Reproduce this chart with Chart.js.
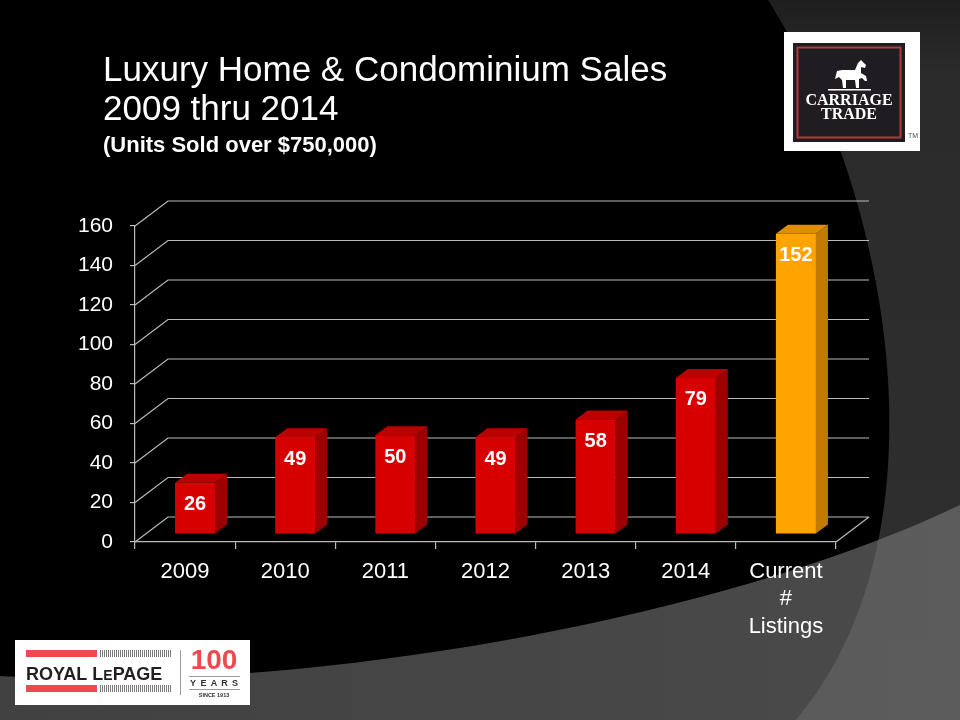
<!DOCTYPE html>
<html>
<head>
<meta charset="utf-8">
<title>Luxury Home &amp; Condominium Sales</title>
<script src="https://cdn.jsdelivr.net/npm/chart.js@4.4.1/dist/chart.umd.min.js"></script>
<style>
  html, body { margin: 0; padding: 0; background: #000; }
  #salesChart { display: block; }
</style>
</head>
<body>
<canvas id="salesChart" width="960" height="720"></canvas>
<script>
const categories = ['2009', '2010', '2011', '2012', '2013', '2014', ['Current', '#', 'Listings']];
const unitsSold = [26, 49, 50, 49, 58, 79, 152];
const yTickValues = [0, 20, 40, 60, 80, 100, 120, 140, 160];

const FONT = '"Liberation Sans", Arial, sans-serif';
const RED = { front: '#d60000', side: '#9c0000', top: '#bc0000' };
const ORANGE = { front: '#ffa300', side: '#c27b00', top: '#e08e00' };
const GRID = '#bbbbbb';
const TITLE_LEFT = 103;
const DEPTH = { x: 33, y: -25 };      // back wall offset from the front axis
const BAR_SHIFT = { x: 10, y: -8 };   // bars stand in the middle of the floor
const BAR_DEPTH = { x: 12, y: -9 };   // thickness of each bar

Chart.defaults.font.family = FONT;

function faceColors(i) {
    return i === unitsSold.length - 1 ? ORANGE : RED;
}

function drawCarriageTrade(ctx) {
    ctx.fillStyle = '#fff';
    ctx.fillRect(784, 32, 136, 119);
    ctx.fillStyle = '#1f1d22';
    ctx.fillRect(793, 43, 112, 99);
    ctx.strokeStyle = '#b23a3a';
    ctx.lineWidth = 2;
    ctx.strokeRect(797.5, 47.5, 103, 90);

    // prancing horse, rough silhouette
    ctx.fillStyle = '#fff';
    ctx.beginPath();
    ctx.moveTo(835, 79);
    ctx.lineTo(837, 71);
    ctx.lineTo(842, 70);
    ctx.lineTo(855, 70);
    ctx.lineTo(858, 63);
    ctx.lineTo(861, 60);
    ctx.lineTo(866, 65);
    ctx.lineTo(865, 68);
    ctx.lineTo(861, 67);
    ctx.lineTo(861, 73);
    ctx.lineTo(866, 76);
    ctx.lineTo(867, 81);
    ctx.lineTo(865, 81);
    ctx.lineTo(862, 78);
    ctx.lineTo(859, 79);
    ctx.lineTo(859, 88);
    ctx.lineTo(856, 88);
    ctx.lineTo(855, 80);
    ctx.lineTo(846, 80);
    ctx.lineTo(846, 88);
    ctx.lineTo(843, 88);
    ctx.lineTo(842, 80);
    ctx.lineTo(839, 77);
    ctx.closePath();
    ctx.fill();
    ctx.fillRect(828, 89, 43, 1.5);

    ctx.textAlign = 'center';
    ctx.textBaseline = 'alphabetic';
    ctx.font = 'bold 16px "Liberation Serif", serif';
    ctx.fillText('CARRIAGE', 849, 105);
    ctx.fillText('TRADE', 849, 119);
    ctx.fillStyle = '#555';
    ctx.font = '7px ' + FONT;
    ctx.fillText('TM', 913, 138);
}

function drawRoyalLePage(ctx) {
    ctx.fillStyle = '#fff';
    ctx.fillRect(15, 640, 235, 65);
    ctx.fillStyle = '#ec4a4f';
    ctx.fillRect(26, 650, 71, 7);
    ctx.fillRect(26, 685, 71, 7);
    ctx.fillStyle = '#7a7a7a';
    for (let x = 100; x < 171; x += 2) {
        ctx.fillRect(x, 650, 1, 7);
        ctx.fillRect(x, 685, 1, 7);
    }
    ctx.fillStyle = '#231f20';
    ctx.textAlign = 'left';
    ctx.textBaseline = 'alphabetic';
    ctx.font = 'bold 18px ' + FONT;
    let x = 26;
    ctx.fillText('ROYAL L', x, 680);
    x += ctx.measureText('ROYAL L').width;
    ctx.font = 'bold 14px ' + FONT;
    ctx.fillText('E', x, 680);
    x += ctx.measureText('E').width;
    ctx.font = 'bold 18px ' + FONT;
    ctx.fillText('PAGE', x, 680);

    ctx.fillStyle = '#9a9a9a';
    ctx.fillRect(180, 650, 1, 45);
    ctx.fillStyle = '#ec4a4f';
    ctx.textAlign = 'center';
    ctx.font = 'bold 28px ' + FONT;
    ctx.fillText('100', 214, 669);
    ctx.fillStyle = '#9a9a9a';
    ctx.fillRect(189, 676, 51, 1);
    ctx.fillRect(189, 689, 51, 1);
    ctx.fillStyle = '#333';
    ctx.font = 'bold 9px ' + FONT;
    'YEARS'.split('').forEach((ch, i) => ctx.fillText(ch, 193 + i * 10.5, 686));
    ctx.font = 'bold 5.5px ' + FONT;
    ctx.fillText('SINCE 1913', 214, 697);
}

const backdrop = {
    id: 'backdrop',
    afterLayout(chart) {
        // title lines start a little left of the plot, right of the y labels' edge
        chart.boxes.forEach(b => {
            if (b.position === 'top' && b.options && 'text' in b.options) {
                b.left = TITLE_LEFT;
            }
        });
    },
    beforeDraw(chart) {
        const ctx = chart.ctx;
        ctx.save();
        ctx.fillStyle = '#000';
        ctx.fillRect(0, 0, chart.width, chart.height);

        // dark panel sweeping down the right side
        let g = ctx.createLinearGradient(0, 0, 0, 720);
        g.addColorStop(0, '#1e1e1e');
        g.addColorStop(0.1, '#2b2b2b');
        g.addColorStop(1, '#2f2f2f');
        ctx.fillStyle = g;
        ctx.beginPath();
        ctx.moveTo(768, 0);
        ctx.bezierCurveTo(895, 200, 950, 540, 796, 720);
        ctx.lineTo(960, 720);
        ctx.lineTo(960, 0);
        ctx.closePath();
        ctx.fill();

        // lighter band along the bottom
        g = ctx.createLinearGradient(0, 0, 960, 0);
        g.addColorStop(0, 'rgba(105,105,105,0.62)');
        g.addColorStop(1, 'rgba(120,120,120,0.62)');
        ctx.fillStyle = g;
        ctx.beginPath();
        ctx.moveTo(0, 676);
        ctx.bezierCurveTo(300, 695, 720, 620, 960, 505);
        ctx.lineTo(960, 720);
        ctx.lineTo(0, 720);
        ctx.closePath();
        ctx.fill();

        drawCarriageTrade(ctx);
        drawRoyalLePage(ctx);
        ctx.restore();
    }
};

// back wall, side wall and floor edges, then the bars' depth faces and values
const box3d = {
    id: 'box3d',
    beforeDatasetsDraw(chart) {
        const { ctx, chartArea: a, scales: { y } } = chart;
        ctx.save();
        ctx.strokeStyle = GRID;
        ctx.lineWidth = 1.2;
        ctx.beginPath();
        y.ticks.forEach(t => {
            const py = y.getPixelForValue(t.value);
            ctx.moveTo(a.left, py);
            ctx.lineTo(a.left + DEPTH.x, py + DEPTH.y);
            ctx.lineTo(a.right + DEPTH.x, py + DEPTH.y);
        });
        ctx.moveTo(a.right, a.bottom);
        ctx.lineTo(a.right + DEPTH.x, a.bottom + DEPTH.y);
        ctx.stroke();
        ctx.restore();

        ctx.save();
        ctx.translate(BAR_SHIFT.x, BAR_SHIFT.y);
    },
    afterDatasetsDraw(chart) {
        const ctx = chart.ctx;
        const meta = chart.getDatasetMeta(0);
        meta.data.forEach((bar, i) => {
            const c = faceColors(i);
            const l = bar.x - bar.width / 2;
            const r = bar.x + bar.width / 2;
            const t = bar.y;
            const b = bar.base;

            ctx.fillStyle = c.side;
            ctx.beginPath();
            ctx.moveTo(r, t);
            ctx.lineTo(r + BAR_DEPTH.x, t + BAR_DEPTH.y);
            ctx.lineTo(r + BAR_DEPTH.x, b + BAR_DEPTH.y);
            ctx.lineTo(r, b);
            ctx.closePath();
            ctx.fill();

            ctx.fillStyle = c.top;
            ctx.beginPath();
            ctx.moveTo(l, t);
            ctx.lineTo(l + BAR_DEPTH.x, t + BAR_DEPTH.y);
            ctx.lineTo(r + BAR_DEPTH.x, t + BAR_DEPTH.y);
            ctx.lineTo(r, t);
            ctx.closePath();
            ctx.fill();

            ctx.fillStyle = '#fff';
            ctx.font = 'bold 20px ' + FONT;
            ctx.textAlign = 'center';
            ctx.textBaseline = 'middle';
            ctx.fillText(String(unitsSold[i]), bar.x, t + 22);
        });
        ctx.restore();
    }
};

const ctx = document.getElementById('salesChart').getContext('2d');
const salesChart = new Chart(ctx, {
    type: 'bar',
    data: {
        labels: categories,
        datasets: [{
            data: unitsSold,
            backgroundColor: c => faceColors(c.dataIndex).front,
            borderWidth: 0,
            barPercentage: 0.4,
            categoryPercentage: 1
        }]
    },
    options: {
        responsive: false,
        animation: false,
        layout: {
            padding: { left: 40, right: 124, top: 0, bottom: 0 }
        },
        scales: {
            x: {
                offset: true,
                grid: {
                    offset: true,
                    drawOnChartArea: false,
                    tickLength: 7,
                    color: GRID,
                    lineWidth: 1.2
                },
                border: { color: GRID, width: 1.2 },
                ticks: {
                    color: '#fff',
                    font: { size: 22, lineHeight: 1.25 },
                    padding: 9,
                    maxRotation: 0,
                    autoSkip: false
                },
                afterFit(scale) { scale.height = 178; }
            },
            y: {
                min: 0,
                max: 160,
                afterBuildTicks(scale) {
                    scale.ticks = yTickValues.map(v => ({ value: v }));
                },
                grid: {
                    drawOnChartArea: false,
                    tickLength: 5,
                    color: GRID,
                    lineWidth: 1.2
                },
                border: { color: GRID, width: 1.2 },
                ticks: {
                    color: '#fff',
                    font: { size: 21 },
                    padding: 17
                },
                afterFit(scale) { scale.width = 95; }
            }
        },
        plugins: {
            legend: { display: false },
            tooltip: { enabled: false },
            title: {
                display: true,
                align: 'start',
                text: ['Luxury Home & Condominium Sales', '2009 thru 2014'],
                color: '#fff',
                font: { size: 35, weight: 'normal', lineHeight: 1.114 },
                padding: { top: 51.5, bottom: 0 }
            },
            subtitle: {
                display: true,
                align: 'start',
                text: '(Units Sold over $750,000)',
                color: '#fff',
                font: { size: 22, weight: 'bold', lineHeight: 1.2 },
                padding: { top: 3.4, bottom: 66.7 }
            }
        }
    },
    plugins: [backdrop, box3d]
});
</script>
</body>
</html>
